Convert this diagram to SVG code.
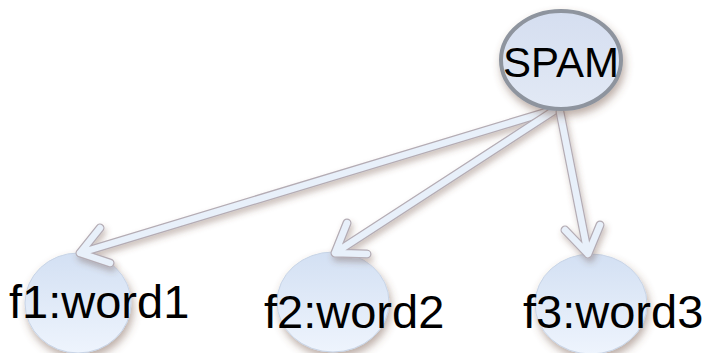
<svg xmlns="http://www.w3.org/2000/svg" width="708" height="353" viewBox="0 0 708 353">
  <defs>
    <linearGradient id="gNode" x1="0" y1="0" x2="0" y2="1">
      <stop offset="0" stop-color="#d3e0f3"/>
      <stop offset="1" stop-color="#eef4fd"/>
    </linearGradient>
    <linearGradient id="gSpam" x1="0" y1="0" x2="0" y2="1">
      <stop offset="0" stop-color="#d5def0"/>
      <stop offset="1" stop-color="#e2e9f5"/>
    </linearGradient>
    <filter id="shadow" x="-30%" y="-30%" width="160%" height="170%">
      <feDropShadow dx="2" dy="5" stdDeviation="4" flood-color="#6b4a3a" flood-opacity="0.45"/>
    </filter>
    <filter id="ashadow" x="-20%" y="-20%" width="140%" height="140%">
      <feDropShadow dx="2" dy="4" stdDeviation="3" flood-color="#6b4a3a" flood-opacity="0.35"/>
    </filter>
  </defs>
  <style>
    .node { fill: url(#gNode); stroke: #c8d4e6; stroke-width: 1; filter: url(#shadow); }
    .spam { fill: url(#gSpam); stroke: #8e949e; stroke-width: 4; filter: url(#shadow); }
    .lbl { font-family: "Liberation Sans", Arial, sans-serif; fill: #000; }
    .aout { fill: none; stroke: #b4acb4; stroke-width: 9; stroke-linecap: round; stroke-linejoin: round; }
    .ain { fill: none; stroke: #e8f0fa; stroke-width: 6.5; stroke-linecap: round; stroke-linejoin: round; }
  </style>
  <rect width="708" height="353" fill="#ffffff"/>

  <g id="node-f1">
    <ellipse class="node" cx="78" cy="303" rx="53" ry="50"/>
  </g>
  <g id="node-f2">
    <ellipse class="node" cx="333" cy="302" rx="56" ry="50"/>
  </g>
  <g id="node-f3">
    <ellipse class="node" cx="591" cy="304" rx="56" ry="50"/>
  </g>

  <g id="connectors" filter="url(#ashadow)">
    <path class="aout" d="M553,110 L80,253 M100,228 L80,253 L110,263"/>
    <path class="ain" d="M553,110 L80,253 M100,228 L80,253 L110,263"/>
    <path class="aout" d="M555,110 L335,253 M347,223 L335,253 L367,254"/>
    <path class="ain" d="M555,110 L335,253 M347,223 L335,253 L367,254"/>
    <path class="aout" d="M560,112 L588,254 M565,230 L588,254 L600,225"/>
    <path class="ain" d="M560,112 L588,254 M565,230 L588,254 L600,225"/>
  </g>

  <g id="node-spam">
    <ellipse class="spam" cx="561" cy="60" rx="60" ry="49"/>
    <text class="lbl" x="503" y="77" font-size="42">SPAM</text>
  </g>

  <text class="lbl" x="9" y="318" font-size="47">f1:word1</text>
  <text class="lbl" x="264" y="328" font-size="47">f2:word2</text>
  <text class="lbl" x="523" y="328" font-size="47">f3:word3</text>
</svg>
